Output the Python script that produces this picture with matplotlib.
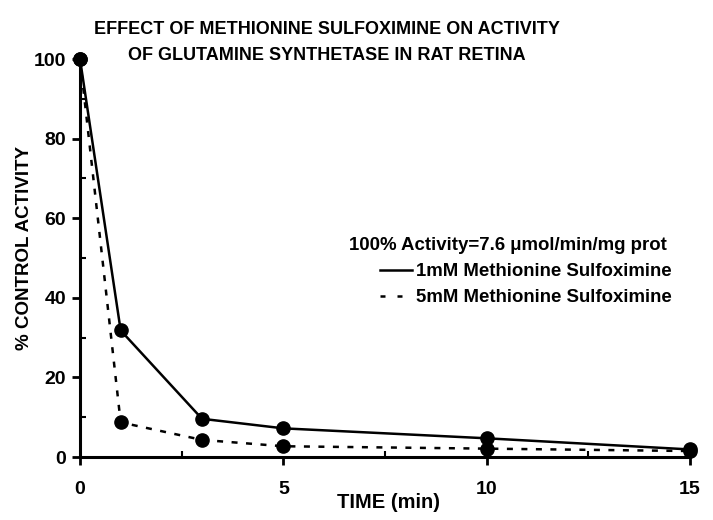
import matplotlib
matplotlib.use("Agg")
import matplotlib.pyplot as plt
from matplotlib.lines import Line2D
from matplotlib.ticker import MultipleLocator

plt.rcParams['font.family'] = ['Liberation Sans', 'DejaVu Sans']
plt.rcParams['font.weight'] = 'bold'

time_min = [0, 1, 3, 5, 10, 15]
mso_1mM = [100, 31.8, 9.6, 7.2, 4.7, 1.9]
mso_5mM = [100, 8.7, 4.3, 2.7, 2.1, 1.5]
x_ticks = [0, 5, 10, 15]
y_ticks = [0, 20, 40, 60, 80, 100]

fig = plt.figure(figsize=(7.13, 5.2), dpi=100)
ax = fig.add_axes([80/713, 1-457/520, 610/713, 398/520])

ax.plot(time_min, mso_1mM, color='black', lw=1.8, marker='o', ms=9.5, clip_on=False, zorder=3)
ax.plot(time_min, mso_5mM, color='black', lw=1.8, ls=(0, (2.4, 3.4)), marker='o', ms=9.5,
        clip_on=False, zorder=3)

ax.set_xlim(0, 15)
ax.set_ylim(0, 100)
ax.set_xticks(x_ticks)
ax.set_yticks(y_ticks)
ax.xaxis.set_minor_locator(MultipleLocator(2.5))
ax.yaxis.set_minor_locator(MultipleLocator(10))
for s in ['top', 'right']:
    ax.spines[s].set_visible(False)
for s in ['left', 'bottom']:
    ax.spines[s].set_linewidth(2.2)
ax.tick_params(which='major', direction='out', length=6, width=2, labelsize=14, pad=4)
ax.tick_params(axis='x', which='major', pad=11)
ax.tick_params(which='minor', direction='in', length=4, width=1.5)
for lab in ax.get_xticklabels() + ax.get_yticklabels():
    lab.set_fontweight('bold')

ax.set_xlabel('TIME (min)', fontsize=14.5, fontweight='bold')
ax.xaxis.set_label_coords((388-80)/610, -(502-457)/398)
ax.xaxis.label.set_va('center')
ax.set_ylabel('% CONTROL ACTIVITY', fontsize=13.5, fontweight='bold')
ax.yaxis.set_label_coords(-(80-25)/610, (457-248)/398)
ax.yaxis.label.set_va('center')

fig.text(327/713, 1-42.5/520, 'EFFECT OF METHIONINE SULFOXIMINE ON ACTIVITY\nOF GLUTAMINE SYNTHETASE IN RAT RETINA',
         ha='center', va='center', fontsize=13, fontweight='bold', linespacing=1.65)

fig.text(349/713, 1-245/520, '100% Activity=7.6 \u03bcmol/min/mg prot', ha='left', va='center',
         fontsize=13.4, fontweight='bold')

handles = [Line2D([], [], color='black', lw=1.8),
           Line2D([], [], color='black', lw=1.8, ls=(0, (2, 4.8)))]
leg = fig.legend(handles, ['1mM Methionine Sulfoximine', '5mM Methionine Sulfoximine'],
                 loc='upper left', bbox_to_anchor=(380/713, 1-263/520), frameon=False,
                 prop={'size': 13.4, 'weight': 'bold'}, handlelength=1.7, handletextpad=0.25,
                 labelspacing=0.5, borderpad=0, borderaxespad=0)

fig.savefig('out.png', dpi=100)
